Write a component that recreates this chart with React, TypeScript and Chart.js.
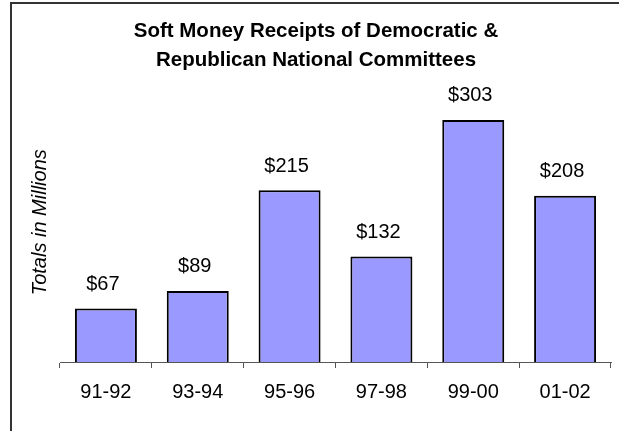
import React, { useEffect, useRef } from "react";
import { Chart, registerables } from "chart.js";

Chart.register(...registerables);

const categories = ["91-92", "93-94", "95-96", "97-98", "99-00", "01-02"];
const receipts = [67, 89, 215, 132, 303, 208];
const titleLines = [
  "Soft Money Receipts of Democratic &",
  "Republican National Committees",
];
const yTitle = "Totals in Millions";

const FONT = "Arial, 'Liberation Sans', sans-serif";

const valueLabels = {
  id: "valueLabels",
  afterDatasetsDraw(chart: any) {
    const ctx = chart.ctx;
    const meta = chart.getDatasetMeta(0);
    const data = chart.data.datasets[0].data;
    ctx.save();
    ctx.font = `20px ${FONT}`;
    ctx.fillStyle = "#000";
    ctx.textAlign = "center";
    ctx.textBaseline = "middle";
    meta.data.forEach((el: any, i: number) => {
      ctx.fillText(`$${data[i]}`, el.x - 3, el.y - 24);
    });
    ctx.restore();
  },
};

const frame = {
  id: "frame",
  beforeDraw(chart: any) {
    const ctx = chart.ctx;
    ctx.save();
    ctx.fillStyle = "#fff";
    ctx.fillRect(0, 0, chart.width, chart.height);
    ctx.strokeStyle = "#333";
    ctx.lineWidth = 2;
    ctx.strokeRect(11, 3, 1000, 1000);
    ctx.restore();
  },
};

export default function App() {
  const ref = useRef<HTMLCanvasElement>(null);
  useEffect(() => {
    document.body.style.margin = "0";
    const chart = new Chart(ref.current!, {
      type: "bar",
      data: {
        labels: categories,
        datasets: [
          {
            data: receipts,
            backgroundColor: "#9999FF",
            borderColor: "#000",
            borderWidth: 2,
            categoryPercentage: 1,
            barPercentage: 0.675,
          },
        ],
      },
      options: {
        animation: false,
        responsive: false,
        devicePixelRatio: 1,
        layout: { padding: { left: 21, right: 8, top: 0, bottom: 15 } },
        plugins: {
          legend: { display: false },
          tooltip: { enabled: false },
          title: {
            display: true,
            text: titleLines,
            color: "#000",
            font: { family: FONT, size: 20.5, weight: "bold", lineHeight: 1.4 },
            padding: { top: 17, bottom: 8 },
          },
        },
        scales: {
          x: {
            grid: {
              display: true,
              drawOnChartArea: false,
              drawTicks: true,
              tickLength: 6,
              color: "#555",
              offset: true,
            },
            border: { display: true, color: "#555", width: 1 },
            ticks: {
              color: "#000",
              font: { family: FONT, size: 20 },
              padding: 12,
            },
          },
          y: {
            min: 0,
            max: 350,
            grid: { display: false },
            border: { display: false },
            ticks: { display: false },
            title: {
              display: true,
              text: yTitle,
              color: "#000",
              font: { family: FONT, size: 20, style: "italic", lineHeight: 1 },
              padding: { top: 9, bottom: 0 },
            },
            afterFit(scale: any) {
              scale.width = 39;
            },
          },
        },
      },
      plugins: [frame, valueLabels],
    });
    return () => chart.destroy();
  }, []);
  return <canvas ref={ref} width={619} height={431} style={{ display: "block" }} />;
}
